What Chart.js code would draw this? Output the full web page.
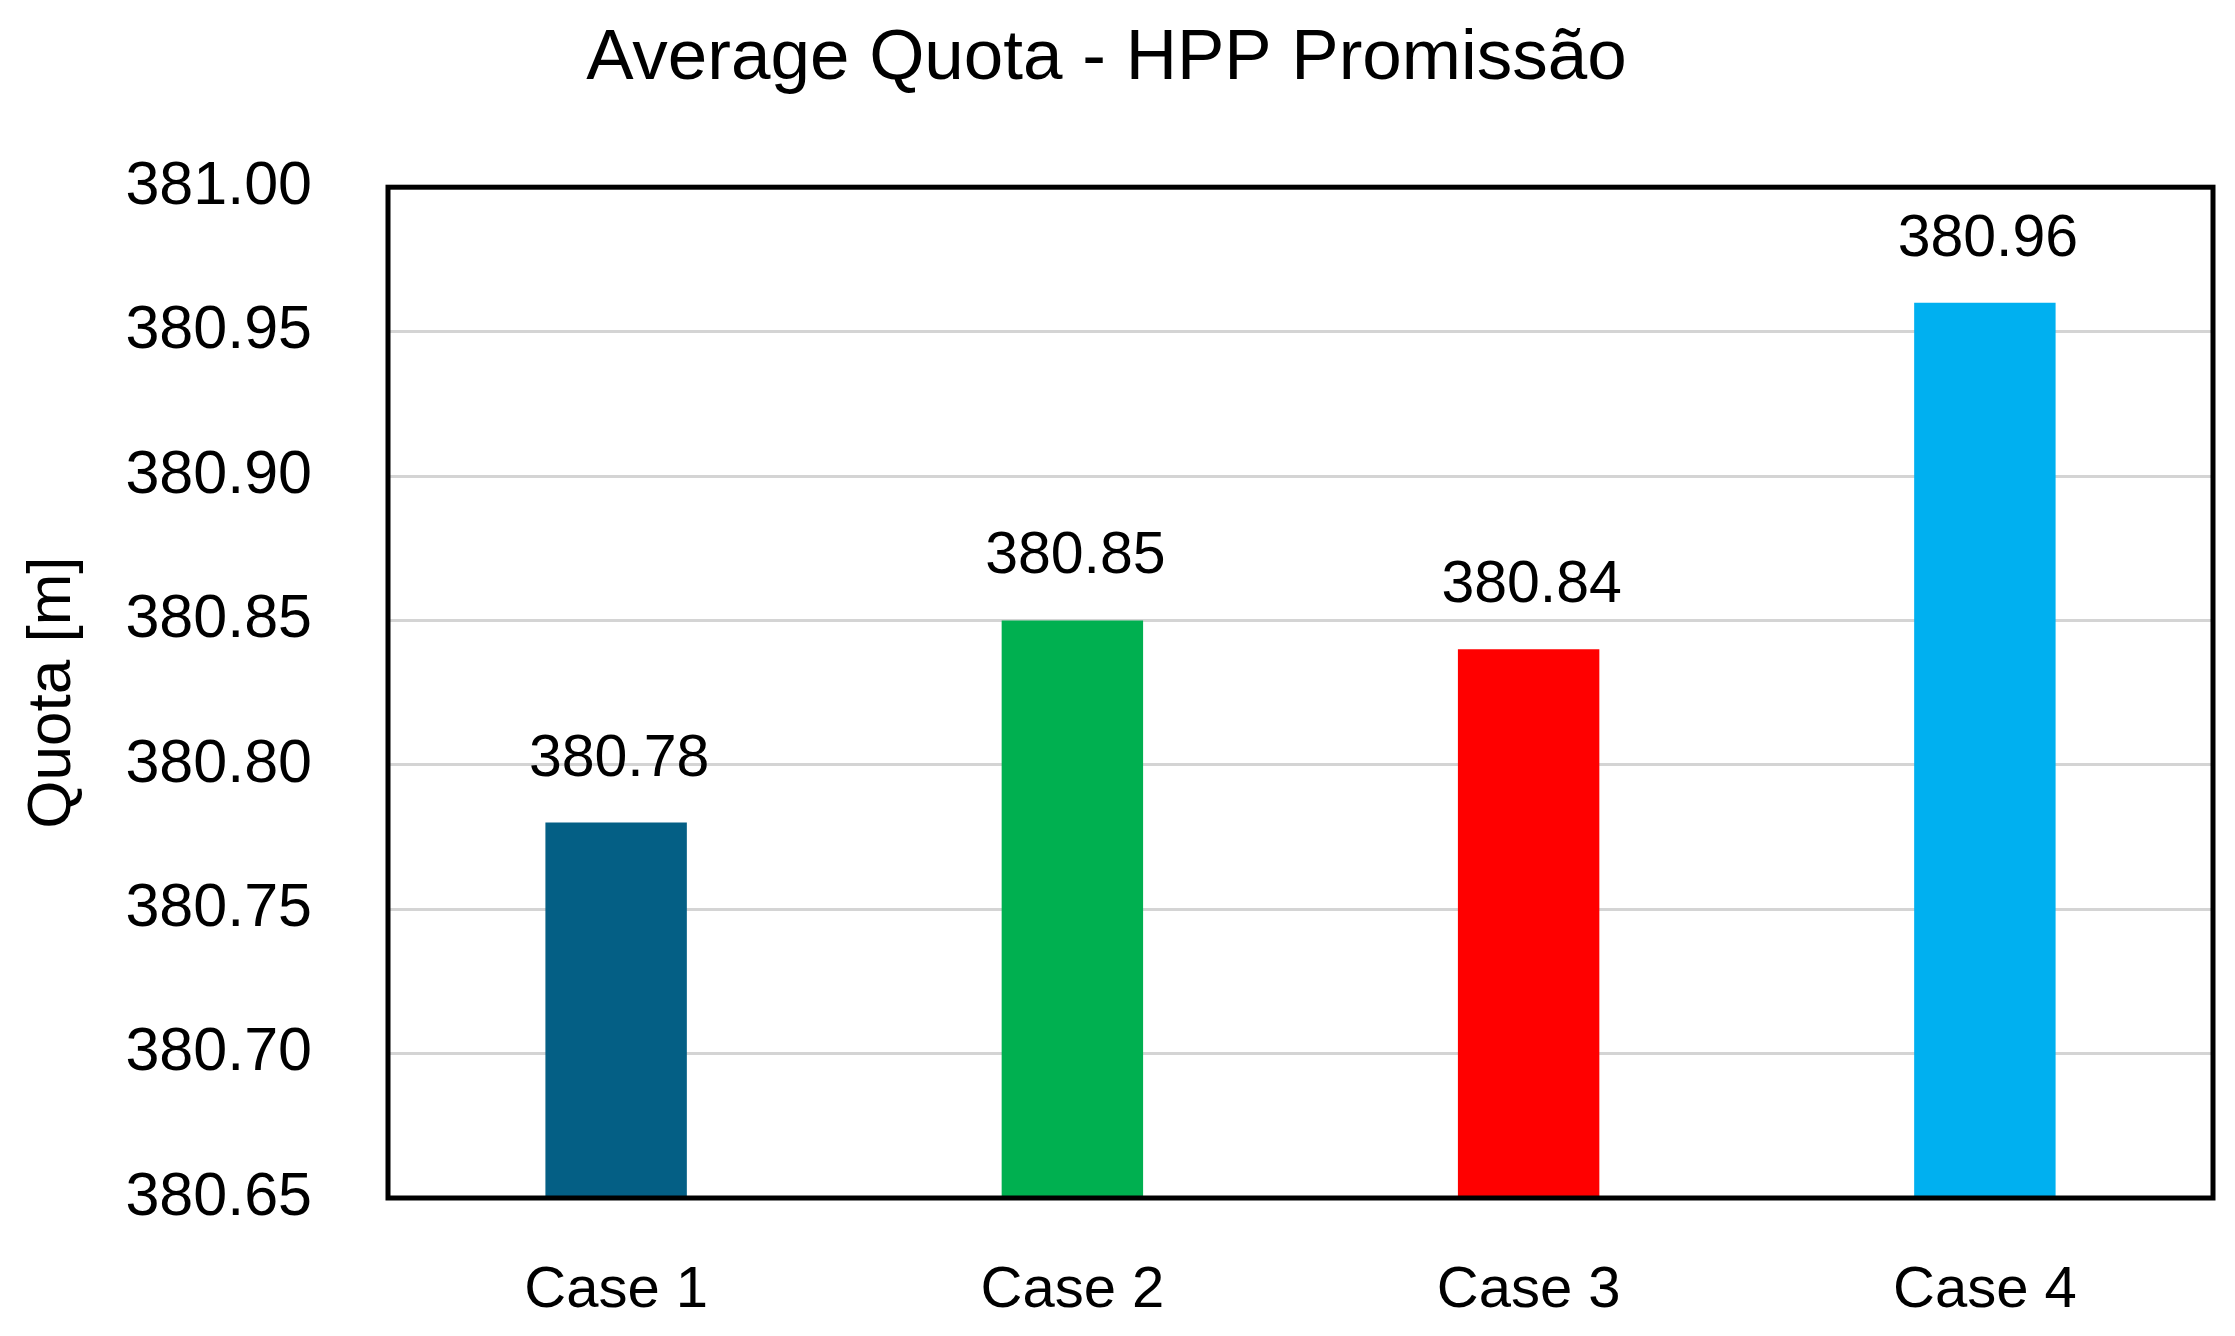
<!DOCTYPE html>
<html>
<head>
<meta charset="utf-8">
<script src="https://cdn.jsdelivr.net/npm/chart.js@4/dist/chart.umd.min.js"></script>
<style>
  html, body { margin: 0; padding: 0; background: #fff; }
  #wrap { width: 2235px; height: 1336px; }
</style>
</head>
<body>
<div id="wrap"><canvas id="grafico"></canvas></div>
<script>
const casos = ['Case 1', 'Case 2', 'Case 3', 'Case 4']
const quotas = [380.78, 380.85, 380.84, 380.96]
const cores = ['#045F85', '#00B050', '#FF0000', '#00B0F0']
const yMin = 380.65
const yMax = 381.00
const yPasso = 0.05

const fonte = '"Liberation Sans", Arial, sans-serif'

// moldura preta em volta da área do gráfico
const moldura = {
  id: 'moldura',
  afterDraw(chart) {
    const { ctx, chartArea: a } = chart
    ctx.save()
    ctx.strokeStyle = '#000'
    ctx.lineWidth = 5
    ctx.strokeRect(a.left, a.top, a.right - a.left, a.bottom - a.top)
    ctx.restore()
  }
}

// rótulos de valor acima das barras
const rotulos = {
  id: 'rotulos',
  afterDatasetsDraw(chart) {
    const { ctx } = chart
    const meta = chart.getDatasetMeta(0)
    ctx.save()
    ctx.font = `59px ${fonte}`
    ctx.fillStyle = '#000'
    ctx.textAlign = 'center'
    ctx.textBaseline = 'alphabetic'
    meta.data.forEach((bar, i) => {
      ctx.fillText(quotas[i].toFixed(2), bar.x + 3, bar.y - 47)
    })
    ctx.restore()
  }
}

new Chart(document.getElementById('grafico'), {
  type: 'bar',
  data: {
    labels: casos,
    datasets: [{
      data: quotas,
      backgroundColor: cores,
      borderWidth: 0,
      barPercentage: 0.31,
      categoryPercentage: 1
    }]
  },
  options: {
    responsive: true,
    maintainAspectRatio: false,
    animation: false,
    layout: { padding: { left: 0, right: 22, top: 0, bottom: 0 } },
    plugins: {
      legend: { display: false },
      tooltip: { enabled: false },
      title: {
        display: true,
        text: 'Average Quota - HPP Promissão',
        color: '#000',
        font: { family: fonte, size: 71, weight: 'normal' },
        padding: { top: 17, bottom: 85 }
      }
    },
    scales: {
      x: {
        grid: { display: false, drawTicks: false },
        border: { display: false },
        ticks: { color: '#000', font: { family: fonte, size: 58 }, padding: 58, maxRotation: 0 },
        afterFit: s => { s.height = 138 }
      },
      y: {
        min: yMin,
        max: yMax,
        grid: { color: '#d4d4d4', lineWidth: 3, drawTicks: false },
        border: { display: false },
        ticks: {
          stepSize: yPasso,
          color: '#000',
          font: { family: fonte, size: 61 },
          padding: 76,
          callback: v => Number(v).toFixed(2)
        },
        title: {
          display: true,
          text: 'Quota [m]',
          color: '#000',
          font: { family: fonte, size: 62 },
          padding: { top: 16, bottom: 0 }
        },
        afterFit: s => { s.width = 388 }
      }
    }
  },
  plugins: [moldura, rotulos]
})
</script>
</body>
</html>
